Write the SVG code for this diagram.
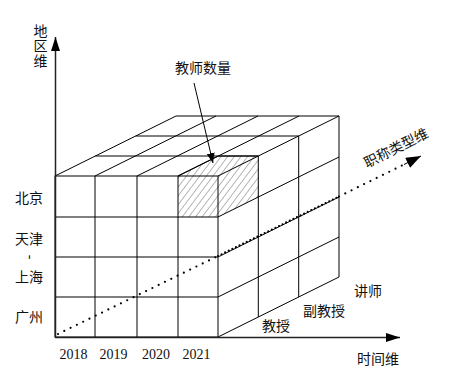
<svg xmlns="http://www.w3.org/2000/svg" width="449" height="379" viewBox="0 0 449 379">
<style>
  .g { stroke: #000; stroke-width: 1; fill: none; }
  .ax { stroke: #222; stroke-width: 1.5; fill: none; }
  .t { font-family: "Liberation Serif", "Noto Sans CJK SC", serif; font-size: 14px; fill: #111; }
  .dot { stroke: #000; stroke-width: 2.2; stroke-linecap: round; fill: none; }
</style>
<defs>
  <pattern id="hatch" patternUnits="userSpaceOnUse" width="5.3" height="5.3" patternTransform="rotate(37)">
    <line x1="0" y1="0" x2="0" y2="5.3" stroke="#333" stroke-width="0.7"/>
  </pattern>
  <marker id="arr" markerUnits="userSpaceOnUse" markerWidth="15" markerHeight="10" refX="14" refY="4.5" orient="auto">
    <path d="M0,0 L14,4.5 L0,9 z" fill="#000"/>
  </marker>
  <marker id="arrS" markerUnits="userSpaceOnUse" markerWidth="11" markerHeight="9" refX="10" refY="4" orient="auto">
    <path d="M0,0 L10,4 L0,8 z" fill="#000"/>
  </marker>
  <marker id="arrB" markerUnits="userSpaceOnUse" markerWidth="16" markerHeight="12" refX="15" refY="5.5" orient="auto">
    <path d="M0,0 L15,5.5 L0,11 z" fill="#000"/>
  </marker>
</defs>

<g id="cube">
  <g id="hatched-cell">
    <polygon points="178,176 218,176 218,217 178,217" fill="url(#hatch)"/>
    <polygon points="178,176 218.3,156 258.3,156 218,176" fill="url(#hatch)"/>
    <polygon points="218,176 258.3,156 258.3,197 218,217" fill="url(#hatch)"/>
    <line class="g" x1="178" y1="176" x2="218.3" y2="156"/>
    <line class="g" x1="218.3" y1="156" x2="258.3" y2="156"/>
  </g>
  <g id="front-face">
    <rect class="g" x="55" y="176" width="163" height="161"/>
    <line class="g" x1="95" y1="176" x2="95" y2="337"/>
    <line class="g" x1="137" y1="176" x2="137" y2="337"/>
    <line class="g" x1="178" y1="176" x2="178" y2="337"/>
    <line class="g" x1="55" y1="217" x2="218" y2="217"/>
    <line class="g" x1="55" y1="257" x2="218" y2="257"/>
    <line class="g" x1="55" y1="297" x2="218" y2="297"/>
  </g>
  <g id="top-face">
    <line class="g" x1="55" y1="176" x2="176" y2="116"/>
    <line class="g" x1="95" y1="176" x2="216" y2="116"/>
    <line class="g" x1="137" y1="176" x2="258" y2="116"/>
    <line class="g" x1="178" y1="176" x2="299" y2="116"/>
    <line class="g" x1="218" y1="176" x2="339" y2="116"/>
    <line class="g" x1="95.3" y1="156" x2="258.3" y2="156"/>
    <line class="g" x1="135.7" y1="136" x2="298.7" y2="136"/>
    <line class="g" x1="176" y1="116" x2="339" y2="116"/>
  </g>
  <g id="right-face">
    <line class="g" x1="258.3" y1="156" x2="258.3" y2="317"/>
    <line class="g" x1="298.7" y1="136" x2="298.7" y2="297"/>
    <line class="g" x1="339" y1="116" x2="339" y2="277"/>
    <line class="g" x1="218" y1="217" x2="339" y2="157"/>
    <line class="g" x1="218" y1="257" x2="339" y2="197"/>
    <line class="g" x1="218" y1="297" x2="339" y2="237"/>
    <line class="g" x1="218" y1="337" x2="339" y2="277"/>
  </g>
</g>

<g id="connectors">
  <line class="ax" x1="55.5" y1="337" x2="55.5" y2="37" marker-end="url(#arr)"/>
  <line class="ax" x1="55" y1="337.5" x2="400" y2="337.5" marker-end="url(#arr)"/>
  <line class="g" x1="194" y1="83" x2="213" y2="163" marker-end="url(#arrS)"/>
  <line class="dot" x1="58" y1="334" x2="218" y2="256" stroke-dasharray="0 7"/>
  <line class="dot" x1="218" y1="256" x2="339" y2="196.5" stroke-width="1.8" stroke-dasharray="0 4"/>
  <line class="dot" x1="339" y1="196.5" x2="408" y2="162.5" stroke-dasharray="0 7"/>
  <line class="g" x1="404" y1="164.5" x2="421" y2="156" stroke="none" marker-end="url(#arrB)"/>
</g>

<g id="labels">
  <text class="t" x="33.5" y="36">地</text>
  <text class="t" x="33.5" y="51">区</text>
  <text class="t" x="33.5" y="66">维</text>
  <text class="t" x="175" y="73">教师数量</text>
  <text class="t" x="15" y="203">北京</text>
  <text class="t" x="15" y="243.5">天津</text>
  <text class="t" x="30.5" y="257" text-anchor="middle" transform="rotate(90 30.5 257)" dy="0.3em" font-size="10">-</text>
  <text class="t" x="15" y="282">上海</text>
  <text class="t" x="15" y="321.5">广州</text>
  <text class="t" x="59.5" y="359">2018</text>
  <text class="t" x="99.5" y="359">2019</text>
  <text class="t" x="142" y="359">2020</text>
  <text class="t" x="182.5" y="359">2021</text>
  <text class="t" x="357" y="364">时间维</text>
  <text class="t" x="354" y="296">讲师</text>
  <text class="t" x="303" y="316">副教授</text>
  <text class="t" x="262" y="331">教授</text>
  <text class="t" text-anchor="middle" transform="translate(396 148) rotate(-26.6)" y="5">职称类型维</text>
</g>
</svg>
